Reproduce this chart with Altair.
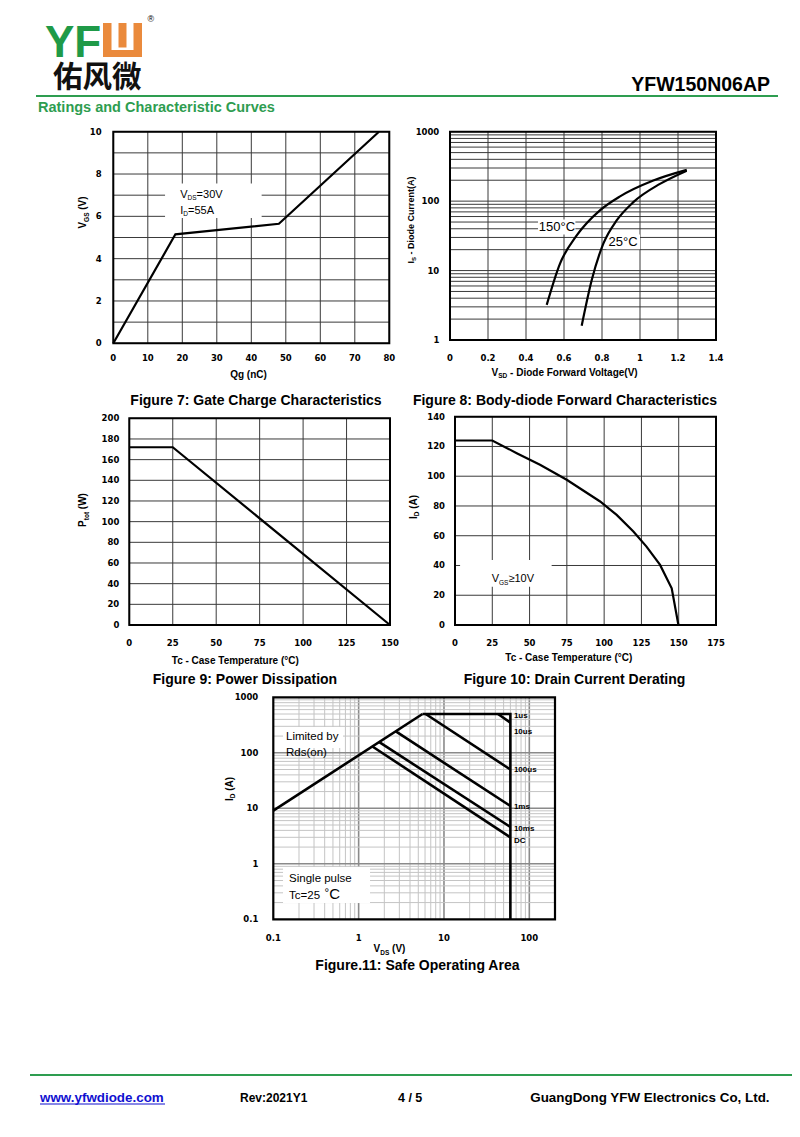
import altair as alt
import pandas as pd

# ====================== DATA ======================
# Figure 7 - gate charge
gate_qg = [0, 18, 48, 77]
gate_vgs = [0, 5.15, 5.65, 10]

# Figure 8 - body-diode forward characteristics
diode_vsd_150 = [0.509, 0.579, 0.667, 0.789, 0.895, 1.07, 1.246]
diode_is_150 = [3.2, 12.6, 32, 73.5, 117, 198, 282]
diode_vsd_25 = [0.693, 0.746, 0.807, 0.877, 0.965, 1.105, 1.246]
diode_is_25 = [1.6, 7.3, 24.4, 52.7, 96.6, 177, 275]

# Figure 9 - power dissipation
pdiss_tc = [0, 25, 150]
pdiss_ptot = [172, 172, 0]

# Figure 10 - drain current derating
der_tc = [0, 25, 41.4, 57, 74.9, 97.3, 108.4, 119.6, 128.4, 137.5, 145.3, 149.8]
der_id = [124, 124, 115.5, 107.7, 97.6, 83, 74, 62.8, 52.7, 40.4, 24.7, 0]

# Figure 11 - safe operating area
soa_rds_v = [0.1, 5.6]
soa_rds_i = [9.1, 500]
soa_1us_v = [5.6, 60, 60]
soa_1us_i = [500, 500, 0.1]
soa_10us_v = [43, 60]
soa_10us_i = [500, 350]
soa_100us_v = [6.1, 60]
soa_100us_i = [500, 50]
soa_1ms_v = [2.7, 60]
soa_1ms_i = [245, 11]
soa_10ms_v = [1.73, 60]
soa_10ms_i = [157, 4.6]
soa_dc_v = [1.45, 60]
soa_dc_i = [130, 3.0]
soa_labels = ["1us", "10us", "100us", "1ms", "10ms", "DC"]
soa_label_i = [428, 220, 45.5, 9.8, 3.94, 2.39]

# Tick values, tick labels, grid values
fig7_xticks = [0, 10, 20, 30, 40, 50, 60, 70, 80]
fig7_xlabels = ["0", "10", "20", "30", "40", "50", "60", "70", "80"]
fig7_yticks = [0, 2, 4, 6, 8, 10]
fig7_ylabels = ["0", "2", "4", "6", "8", "10"]
fig7_ygrid = [0, 1, 2, 3, 4, 5, 6, 7, 8, 9, 10]
fig8_xticks = [0, 0.2, 0.4, 0.6, 0.8, 1.0, 1.2, 1.4]
fig8_xlabels = ["0", "0.2", "0.4", "0.6", "0.8", "1", "1.2", "1.4"]
fig8_yticks = [1, 10, 100, 1000]
fig8_ylabels = ["1", "10", "100", "1000"]
fig8_ygrid = [k * 10 ** n for n in range(0, 3) for k in range(1, 10)] + [1000]
fig9_xticks = [0, 25, 50, 75, 100, 125, 150]
fig9_xlabels = ["0", "25", "50", "75", "100", "125", "150"]
fig9_yticks = [0, 20, 40, 60, 80, 100, 120, 140, 160, 180, 200]
fig9_ylabels = ["0", "20", "40", "60", "80", "100", "120", "140", "160", "180", "200"]
fig10_xticks = [0, 25, 50, 75, 100, 125, 150, 175]
fig10_xlabels = ["0", "25", "50", "75", "100", "125", "150", "175"]
fig10_yticks = [0, 20, 40, 60, 80, 100, 120, 140]
fig10_ylabels = ["0", "20", "40", "60", "80", "100", "120", "140"]
fig11_xticks = [0.1, 1, 10, 100]
fig11_xlabels = ["0.1", "1", "10", "100"]
fig11_yticks = [0.1, 1, 10, 100, 1000]
fig11_ylabels = ["0.1", "1", "10", "100", "1000"]
fig11_xminor = [round(k * 10 ** n, 3) for n in (-1, 0, 1) for k in range(2, 10)]
fig11_xmajor = [1, 10, 100]
fig11_yminor = [round(k * 10 ** n, 3) for n in (-1, 0, 1, 2) for k in range(2, 10)]
fig11_ymajor = [1, 10, 100]

# ====================== LAYOUT / STYLE ======================
M = 8                 # page margin
W, H = 784, 1121      # drawing size
SANS = "Liberation Sans"
TICKF = "DejaVu Sans"
TICKS = 8.5
ONE = pd.DataFrame({"d": [0]})


def c(v):
    return v - M


REG = {' ': 278, '(': 333, ')': 333, ',': 278, '-': 333, '.': 278, '/': 278, ':': 278, '=': 584,
       '°': 400, '≥': 549, 'A': 667, 'B': 667, 'C': 722, 'D': 722, 'E': 667, 'F': 611, 'G': 778,
       'H': 722, 'I': 278, 'L': 556, 'M': 833, 'N': 722, 'P': 667, 'Q': 778, 'R': 722, 'S': 667,
       'T': 611, 'V': 667, 'W': 944, 'Y': 667, 'a': 556, 'b': 556, 'c': 500, 'd': 556, 'e': 556,
       'f': 278, 'g': 556, 'h': 556, 'i': 222, 'l': 222, 'm': 833, 'n': 556, 'o': 556, 'p': 556,
       'r': 333, 's': 500, 't': 278, 'u': 556, 'v': 500, 'w': 722, 'y': 500}
BOLD = {' ': 278, '(': 333, ')': 333, ',': 278, '-': 333, '.': 278, '/': 278, ':': 333, '=': 584,
        '°': 400, 'A': 722, 'B': 722, 'C': 722, 'D': 722, 'E': 667, 'F': 611, 'G': 778, 'H': 722,
        'I': 278, 'L': 611, 'M': 833, 'N': 722, 'P': 667, 'Q': 778, 'R': 722, 'S': 667, 'T': 611,
        'V': 667, 'W': 944, 'Y': 667, 'a': 556, 'b': 611, 'c': 556, 'd': 611, 'e': 556, 'f': 333,
        'g': 611, 'h': 611, 'i': 278, 'l': 278, 'm': 889, 'n': 611, 'o': 611, 'p': 611, 'r': 389,
        's': 556, 't': 333, 'u': 611, 'v': 556, 'w': 778, 'y': 556}


def tw(s, size, bold):
    t = BOLD if bold else REG
    return sum(t.get(ch, 556) for ch in s) * size / 1000.0


def rich(pieces, x, y, align="left", angle=0, color="black", sx=None, sy=None, font=SANS):
    """pieces: list of (text, size, bold, dy). x,y page px (or data if scales given)."""
    widths = [tw(t, s, b) for t, s, b, d in pieces]
    total = sum(widths)
    acc = {"left": 0.0, "center": -total / 2.0, "right": -total}[align]
    out = []
    for (t, s, b, d), w in zip(pieces, widths):
        stripped = t.lstrip(" ")
        lead = tw(t[: len(t) - len(stripped)], s, b)
        df = pd.DataFrame({"tx": [x], "ty": [y], "label": [stripped]})
        mk = alt.Chart(df).mark_text(align="left", baseline="alphabetic", dx=acc + lead, dy=d,
                                     fontSize=s, fontWeight="bold" if b else "normal",
                                     font=font, color=color, angle=angle)
        if sx is None:
            enc = dict(x=alt.value(c(x)), y=alt.value(c(y)))
        else:
            enc = dict(x=alt.X("tx:Q", scale=sx, axis=None), y=alt.Y("ty:Q", scale=sy, axis=None))
        out.append(mk.encode(text="label:N", **enc))
        acc += w
    return out


def scale(dom, rng, typ="linear"):
    return alt.Scale(type=typ, domain=dom, range=[c(rng[0]), c(rng[1])], nice=False, zero=False)


def xtick_labels(vals, labels, sx, ypage):
    df = pd.DataFrame({"tv": vals, "tl": labels})
    return alt.Chart(df).mark_text(align="center", baseline="middle", font=TICKF,
                                   fontSize=TICKS, fontWeight="bold", color="black").encode(
        x=alt.X("tv:Q", scale=sx, axis=None), y=alt.value(c(ypage)), text="tl:N")


def ytick_labels(vals, labels, sy, xpage):
    df = pd.DataFrame({"tv": vals, "tl": labels})
    return alt.Chart(df).mark_text(align="right", baseline="middle", font=TICKF,
                                   fontSize=TICKS, fontWeight="bold", color="black").encode(
        y=alt.Y("tv:Q", scale=sy, axis=None), x=alt.value(c(xpage)), text="tl:N")


def figure(sx, sy, xdom, ydom, vgrids, hgrids, boxes, frame_w, marks):
    layers = []
    for vals, col, w in vgrids:
        df = pd.DataFrame({"gx": vals})
        df["gy0"] = ydom[0]
        df["gy1"] = ydom[1]
        layers.append(alt.Chart(df).mark_rule(color=col, strokeWidth=w).encode(
            x=alt.X("gx:Q", scale=sx, axis=None),
            y=alt.Y("gy0:Q", scale=sy, axis=None), y2="gy1:Q"))
    for vals, col, w in hgrids:
        df = pd.DataFrame({"gy": vals})
        df["gx0"] = xdom[0]
        df["gx1"] = xdom[1]
        layers.append(alt.Chart(df).mark_rule(color=col, strokeWidth=w).encode(
            y=alt.Y("gy:Q", scale=sy, axis=None),
            x=alt.X("gx0:Q", scale=sx, axis=None), x2="gx1:Q"))
    for x0, x1, y0, y1 in boxes:
        df = pd.DataFrame({"bx0": [x0], "bx1": [x1], "by0": [y0], "by1": [y1]})
        layers.append(alt.Chart(df).mark_rect(color="white").encode(
            x=alt.X("bx0:Q", scale=sx, axis=None), x2="bx1:Q",
            y=alt.Y("by0:Q", scale=sy, axis=None), y2="by1:Q"))
    fdf = pd.DataFrame({"fx0": [xdom[0]], "fx1": [xdom[1]], "fy0": [ydom[0]], "fy1": [ydom[1]]})
    layers.append(alt.Chart(fdf).mark_rect(fill="transparent", stroke="black",
                                           strokeWidth=frame_w).encode(
        x=alt.X("fx0:Q", scale=sx, axis=None), x2="fx1:Q",
        y=alt.Y("fy0:Q", scale=sy, axis=None), y2="fy1:Q"))
    layers.extend(marks)
    return alt.layer(*layers)


def line(xs, ys, sx, sy, width=2.0, interp="linear"):
    df = pd.DataFrame({"lx": xs, "ly": ys, "o": list(range(len(xs)))})
    return alt.Chart(df).mark_line(color="black", strokeWidth=width, interpolate=interp,
                                   strokeJoin="miter").encode(
        x=alt.X("lx:Q", scale=sx, axis=None), y=alt.Y("ly:Q", scale=sy, axis=None),
        order="o:Q")


GRID = "#3a3a3a"
layers = []

# ====================== HEADER ======================
layers += rich([("YF", 44, True, 0)], 45, 57, color="#1f9a48")
for x0, y0, x1, y1, col in [(103, 23, 142, 57, "#ea8a3c"), (111.5, 23, 133.5, 50, "white"),
                            (118.5, 23, 126.5, 47.5, "#ea8a3c")]:
    layers.append(alt.Chart(ONE).mark_rect(color=col).encode(
        x=alt.value(c(x0)), x2=alt.value(c(x1)), y=alt.value(c(y0)), y2=alt.value(c(y1))))
layers += rich([("®", 9, False, 0)], 150, 22, align="center")
layers.append(alt.Chart(pd.DataFrame({"label": ["佑风微"]})).mark_text(
    align="left", baseline="middle", font="Noto Sans CJK SC", fontSize=29.5, fontWeight="bold",
    color="#111111").encode(x=alt.value(c(53)), y=alt.value(c(77.5)), text="label:N"))
layers += rich([("YFW150N06AP", 19.5, True, 0)], 770, 91, align="right")
layers.append(alt.Chart(ONE).mark_rule(color="#2e9d50", strokeWidth=2).encode(
    x=alt.value(c(36)), x2=alt.value(c(778)), y=alt.value(c(96))))
layers += rich([("Ratings and Characteristic Curves", 14.5, True, 0)], 38, 112, color="#2e9d50")

# ====================== FIGURE 7 ======================
sx7 = scale([0, 80], [113.3, 389.3])
sy7 = scale([0, 10], [343.3, 131.7])
m7 = [line(gate_qg, gate_vgs, sx7, sy7, 2.2),
      xtick_labels(fig7_xticks, fig7_xlabels, sx7, 358.3),
      ytick_labels(fig7_yticks, fig7_ylabels, sy7, 101.7)]
m7 += rich([("V", 11, False, 0), ("DS", 6.5, False, 2.5), ("=30V", 11, False, 0)], 19.4, 6.89,
           sx=sx7, sy=sy7)
m7 += rich([("I", 11, False, 0), ("D", 6.5, False, 2.5), ("=55A", 11, False, 0)], 19.4, 6.12,
           sx=sx7, sy=sy7)
layers.append(figure(sx7, sy7, [0, 80], [0, 10],
                     [(fig7_xticks, GRID, 1)], [(fig7_ygrid, GRID, 1)],
                     [(15, 43, 5.92, 7.55)], 2, m7))
layers += rich([("Qg (nC)", 10, True, 0)], 248.5, 378, align="center")
layers += rich([("V", 10, True, 0), ("GS", 6.5, True, 2.5), (" (V)", 10, True, 0)], 86, 212.5,
               align="center", angle=270)
layers += rich([("Figure 7: Gate Charge Characteristics", 14, True, 0)], 256, 405, align="center")

# ====================== FIGURE 8 ======================
sx8 = scale([0, 1.4], [450, 716])
sy8 = scale([1, 1000], [340, 131.7], "log")
m8 = [line(diode_vsd_150, diode_is_150, sx8, sy8, 2.2, "monotone"),
      line(diode_vsd_25, diode_is_25, sx8, sy8, 2.2, "monotone"),
      xtick_labels(fig8_xticks, fig8_xlabels, sx8, 357.7),
      ytick_labels(fig8_yticks, fig8_ylabels, sy8, 439.3)]
m8 += rich([("150°C", 13, False, 0)], 0.563, 37.3, align="center", sx=sx8, sy=sy8)
m8 += rich([("25°C", 13, False, 0)], 0.911, 22.7, align="center", sx=sx8, sy=sy8)
layers.append(figure(sx8, sy8, [0, 1.4], [1, 1000],
                     [(fig8_xticks, GRID, 1)], [(fig8_ygrid, GRID, 1)],
                     [(0.463, 0.66, 33.2, 54.6), (0.823, 1.0, 20.2, 33.2)], 2, m8))
layers += rich([("V", 10, True, 0), ("SD", 6.5, True, 2.5),
                (" - Diode Forward Voltage(V)", 10, True, 0)], 565, 375.5, align="center")
layers += rich([("I", 9, True, 0), ("S", 6, True, 2.3), (" - Diode Current(A)", 9, True, 0)],
               414, 220, align="center", angle=270)
layers += rich([("Figure 8: Body-diode Forward Characteristics", 14, True, 0)], 565, 405,
               align="center")

# ====================== FIGURE 9 ======================
sx9 = scale([0, 150], [129.3, 390])
sy9 = scale([0, 200], [625, 418.3])
m9 = [line(pdiss_tc, pdiss_ptot, sx9, sy9, 2.2),
      xtick_labels(fig9_xticks, fig9_xlabels, sx9, 643.3),
      ytick_labels(fig9_yticks, fig9_ylabels, sy9, 119.3)]
layers.append(figure(sx9, sy9, [0, 150], [0, 200],
                     [(fig9_xticks, GRID, 1)], [(fig9_yticks, GRID, 1)], [], 2, m9))
layers += rich([("Tc - Case Temperature (°C)", 10, True, 0)], 236, 664, align="center")
layers += rich([("P", 10, True, 0), ("tot", 6.5, True, 2.5), (" (W)", 10, True, 0)], 86, 510,
               align="center", angle=270)
layers += rich([("Figure 9: Power Dissipation", 14, True, 0)], 245, 684, align="center")

# ====================== FIGURE 10 ======================
sx10 = scale([0, 175], [455, 716])
sy10 = scale([0, 140], [625, 416.7])
m10 = [line(der_tc, der_id, sx10, sy10, 2.2),
       xtick_labels(fig10_xticks, fig10_xlabels, sx10, 642.7),
       ytick_labels(fig10_yticks, fig10_ylabels, sy10, 445)]
m10 += rich([("V", 11, False, 0), ("GS", 6.5, False, 2.5), ("≥10V", 11, False, 0)], 24.6, 28.8,
            sx=sx10, sy=sy10)
layers.append(figure(sx10, sy10, [0, 175], [0, 140],
                     [(fig10_xticks, GRID, 1)], [(fig10_yticks, GRID, 1)],
                     [(3.4, 64.8, 25.7, 43.7)], 2, m10))
layers += rich([("Tc - Case Temperature (°C)", 10, True, 0)], 569.5, 660.5, align="center")
layers += rich([("I", 10, True, 0), ("D", 6.5, True, 2.5), (" (A)", 10, True, 0)], 416.5, 507,
               align="center", angle=270)
layers += rich([("Figure 10: Drain Current Derating", 14, True, 0)], 574.5, 684, align="center")

# ====================== FIGURE 11 ======================
sx11 = scale([0.1, 200], [273.3, 555], "log")
sy11 = scale([0.1, 1000], [919.3, 697.3], "log")
m11 = []
for vs, is_ in [(soa_rds_v, soa_rds_i), (soa_1us_v, soa_1us_i), (soa_10us_v, soa_10us_i),
                (soa_100us_v, soa_100us_i), (soa_1ms_v, soa_1ms_i), (soa_10ms_v, soa_10ms_i),
                (soa_dc_v, soa_dc_i)]:
    m11.append(line(vs, is_, sx11, sy11, 2.6))
for lab, iv in zip(soa_labels, soa_label_i):
    m11 += rich([(lab, 8, True, 0)], 66, iv, sx=sx11, sy=sy11)
m11 += rich([("Limited by", 11.5, False, 0)], 0.141, 170, sx=sx11, sy=sy11)
m11 += rich([("Rds(on)", 11.5, False, 0)], 0.141, 87.5, sx=sx11, sy=sy11)
m11 += rich([("Single pulse", 11.5, False, 0)], 0.153, 0.47, sx=sx11, sy=sy11)
m11 += rich([("Tc=25", 11.5, False, 0), (" °", 11.5, False, -3), ("C", 15, False, 0)], 0.153, 0.232,
            sx=sx11, sy=sy11)
m11 += [xtick_labels(fig11_xticks, fig11_xlabels, sx11, 938.3),
        ytick_labels(fig11_yticks, fig11_ylabels, sy11, 258.3)]
layers.append(figure(sx11, sy11, [0.1, 200], [0.1, 1000],
                     [(fig11_xminor, "#c4c4c4", 1), (fig11_xmajor, "#8a8a8a", 1.6)],
                     [(fig11_yminor, "#c4c4c4", 1), (fig11_ymajor, "#8a8a8a", 1.6)],
                     [(0.13, 0.656, 122, 292), (0.13, 1.36, 0.197, 0.875)], 2.2, m11))
layers += rich([("V", 10, True, 0), ("DS", 6.5, True, 2.5), (" (V)", 10, True, 0)], 389.5, 952,
               align="center")
layers += rich([("I", 10, True, 0), ("D", 6.5, True, 2.5), (" (A)", 10, True, 0)], 232.5, 789,
               align="center", angle=270)
layers += rich([("Figure.11: Safe Operating Area", 14, True, 0)], 416.5, 970, align="center")

# ====================== FOOTER ======================
layers.append(alt.Chart(ONE).mark_rule(color="#2e9d50", strokeWidth=2.2).encode(
    x=alt.value(c(30)), x2=alt.value(c(792)), y=alt.value(c(1075))))
layers += rich([("www.yfwdiode.com", 13.4, True, 0)], 40, 1101.5, color="#1010d0")
layers.append(alt.Chart(ONE).mark_rule(color="#1010d0", strokeWidth=1.2).encode(
    x=alt.value(c(40)), x2=alt.value(c(165)), y=alt.value(c(1104))))
layers += rich([("Rev:2021Y1", 12, True, 0)], 240, 1101.5)
layers += rich([("4 / 5", 12.5, True, 0)], 398, 1101.5)
layers += rich([("GuangDong YFW Electronics Co, Ltd.", 13.4, True, 0)], 770, 1101.5, align="right")

chart = alt.layer(*layers).resolve_scale(x="independent", y="independent").properties(
    width=W, height=H, padding=0, autosize=alt.AutoSizeParams(type="none")
).configure_view(strokeWidth=0)

chart.save("out.html", embed_options={"renderer": "svg", "actions": False})
